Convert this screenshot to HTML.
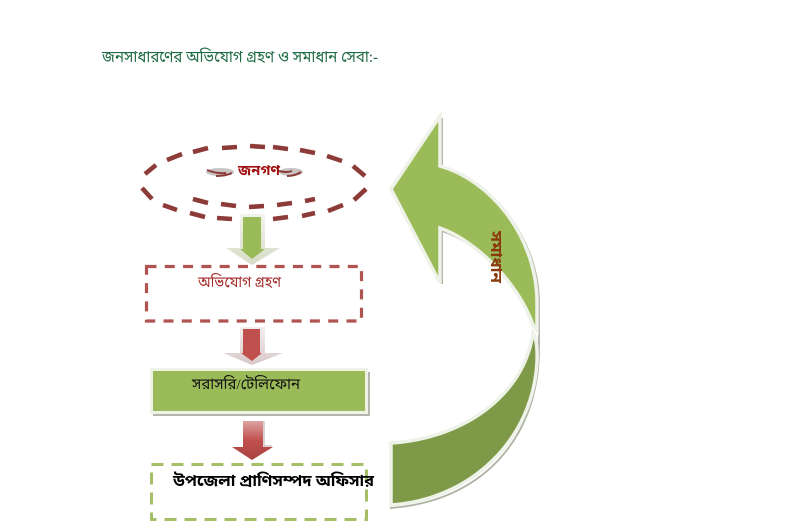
<!DOCTYPE html>
<html>
<head>
<meta charset="utf-8">
<style>
html,body{margin:0;padding:0;background:#fff;width:799px;height:522px;overflow:hidden}
svg{display:block}
text{font-family:"Liberation Serif","Noto Sans Bengali","Lohit Bengali","FreeSerif",serif}
</style>
</head>
<body>
<svg width="799" height="522" viewBox="0 0 799 522" xmlns="http://www.w3.org/2000/svg">
<defs>
<linearGradient id="red" x1="0" y1="0" x2="0" y2="1">
<stop offset="0" stop-color="#dca3a1"/><stop offset=".5" stop-color="#c0504d"/><stop offset="1" stop-color="#a8423f"/>
</linearGradient>
<linearGradient id="lightg" x1="0" y1="0" x2="0" y2="1">
<stop offset="0" stop-color="#f2f4ec"/><stop offset="1" stop-color="#d6dcc6"/>
</linearGradient>
<linearGradient id="lightr" x1="0" y1="0" x2="0" y2="1">
<stop offset="0" stop-color="#f3eeee"/><stop offset="1" stop-color="#d9c9c9"/>
</linearGradient>
</defs>

<text x="102" y="62" font-size="16" fill="#1f6b45" textLength="276" lengthAdjust="spacingAndGlyphs">জনসাধারণের অভিযোগ গ্রহণ ও সমাধান সেবা:-</text>

<!-- ring -->
<ellipse cx="220" cy="172" rx="14" ry="4" fill="#c9c4c4"/>
<ellipse cx="291" cy="172" rx="12" ry="4" fill="#c9c4c4"/>
<path d="M145 174L156 165M167 160L182 154M193 152L208 148M222 148L237 147M250 146L265 147M273 147L288 149M300 150L315 153M327 156L342 161M353 166L365 176
M142 188L152 199M163 205L177 210M190 213L205 217M217 218L232 219M273 219L288 217M302 216L315 213M328 211L343 205M354 200L366 189
M193 199L208 203M221 204L236 206M249 207L264 206M277 205L292 203M305 201L315 199" fill="none" stroke="#8c3b39" stroke-width="4.600"/>
<path d="M207 170q10 4 19 3M216 176q10 0 16-3M279 171q8 2 13 0M287 176q8 0 14-4" fill="none" stroke="#8c3b39" stroke-width="2"/>
<text x="238" y="175" font-size="14" font-weight="bold" fill="#a01010" textLength="42" lengthAdjust="spacingAndGlyphs">জনগণ</text>

<!-- arrow 1 -->
<path d="M240 214H265V248H280L252 265L226 248H240Z" fill="url(#lightg)"/>
<path d="M243 217V249H240L252 259L265 249H261V217Z" fill="#9bbb59"/>

<!-- box 1 -->
<rect x="146.500" y="266.500" width="215" height="54.500" fill="none" stroke="#b05452" stroke-width="3.200" stroke-dasharray="10 8.300"/>
<text x="198" y="287" font-size="15" fill="#a52a2a" textLength="83" lengthAdjust="spacingAndGlyphs">অভিযোগ গ্রহণ</text>

<!-- arrow 2 -->
<path d="M240 327H265V353H283L252 365L223 353H240Z" fill="url(#lightr)"/>
<path d="M243 329V353H241L252 361L262 353H260V329Z" fill="#c0504d"/>

<!-- green box -->
<rect x="153" y="372" width="217" height="44" fill="#b5b5ad"/>
<rect x="151.500" y="369.500" width="215" height="43" fill="#9bbb59" stroke="#eff3e6" stroke-width="3"/>
<text x="192" y="389" font-size="15" fill="#111" textLength="108" lengthAdjust="spacingAndGlyphs">সরাসরি/টেলিফোন</text>

<!-- arrow 3 -->
<path d="M243 421H263V447H273L252 460L232 447H243Z" fill="url(#red)"/>
<path d="M264 421V446H272" fill="none" stroke="#cfc3c3" stroke-width="1.500"/>

<!-- box 3 -->
<rect x="151.500" y="464.500" width="215" height="55" fill="none" stroke="#a5bf66" stroke-width="3" stroke-dasharray="12 8"/>
<text x="173" y="486" font-size="16" font-weight="bold" fill="#000" textLength="201" lengthAdjust="spacingAndGlyphs">উপজেলা প্রাণিসম্পদ অফিসার</text>

<!-- curved arrow shadow -->
<path d="M390 508C480 502 538.500 440 539 350L539 300C537 235 490 180 442 167V118M442 228V284" fill="none" stroke="#aeb2a2" stroke-width="1.800"/>
<path d="M442 231C480 243 518 284 533 327" fill="none" stroke="#b8bbb0" stroke-width="2"/>

<!-- upper -->
<path d="M440 116V166C490 180 535.500 235 537 300V330L533 325C518 282 475 240 440 228V283L391 189Z" fill="#9bbb59" stroke="#eef2e8" stroke-width="3.500" stroke-linejoin="miter"/>
<!-- lower -->
<path d="M391 443C465 438 524 395 533 333C536.500 338 537.500 348 537 362C533 440 470 500 391 505Z" fill="#7e9a48" stroke="#eef2e8" stroke-width="3.500"/>

<text transform="translate(491 231) rotate(90)" font-size="16" font-weight="bold" fill="#8b3a0e" textLength="52" lengthAdjust="spacingAndGlyphs">সমাধান</text>
</svg>
</body>
</html>
